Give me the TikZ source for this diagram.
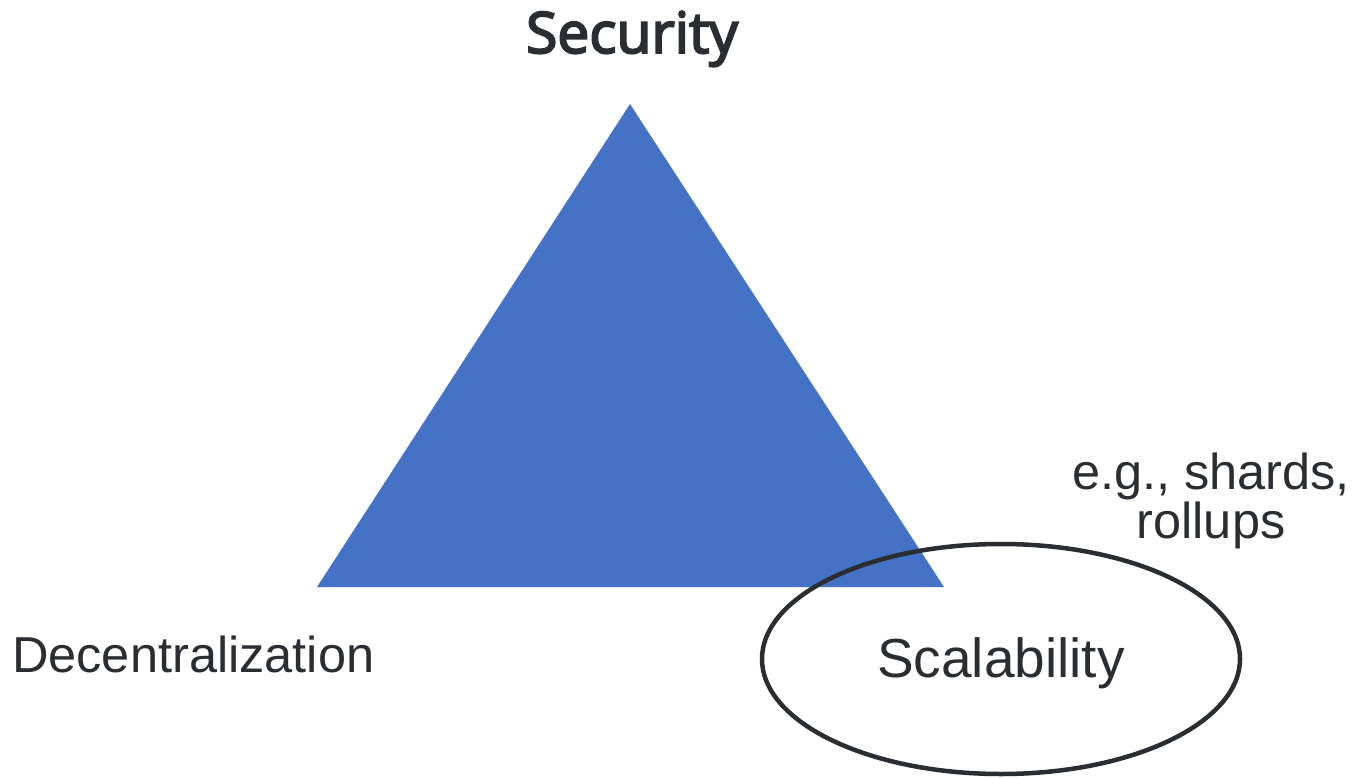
\documentclass[tikz,border=0pt]{standalone}
\usepackage{fontspec}
\usetikzlibrary{shapes.geometric}
\setmainfont{Liberation Sans}
\newfontfamily\headfont[FakeBold=3.5]{Open Sans}
\definecolor{inkgray}{HTML}{2A2D31}
\definecolor{triblue}{HTML}{4472C4}
\begin{document}
\begin{tikzpicture}[x=1pt,y=-1pt,
  label/.style={text=inkgray,inner sep=0pt,font=\fontsize{50.5}{46}\selectfont},
  headlabel/.style={text=inkgray,inner sep=0pt,font=\headfont\fontsize{57}{64}\selectfont}]
\useasboundingbox (0,0) rectangle (1355,778);
% trilemma triangle
\coordinate (apex) at (630,104);
\coordinate (bl) at (317,587);
\coordinate (br) at (944,587);
\fill[triblue] (apex) -- (br) -- (bl) -- cycle;
% corner labels
\node[headlabel,anchor=base] (sec) at (632,53) {Security};
\node[label,anchor=base west] (dec) at (12,672) {Decentralization};
\node[draw=inkgray,line width=4.5pt,ellipse,minimum width=478pt,minimum height=230pt,inner sep=0pt] (scal) at (1001,659) {};
\node[label,anchor=base,font=\fontsize{55}{60}\selectfont] (scaltxt) at (1001,677) {Scalability};
\node[label,align=center,anchor=base] (eg) at (1211,538) {e.g., shards,\\rollups};
\end{tikzpicture}
\end{document}
